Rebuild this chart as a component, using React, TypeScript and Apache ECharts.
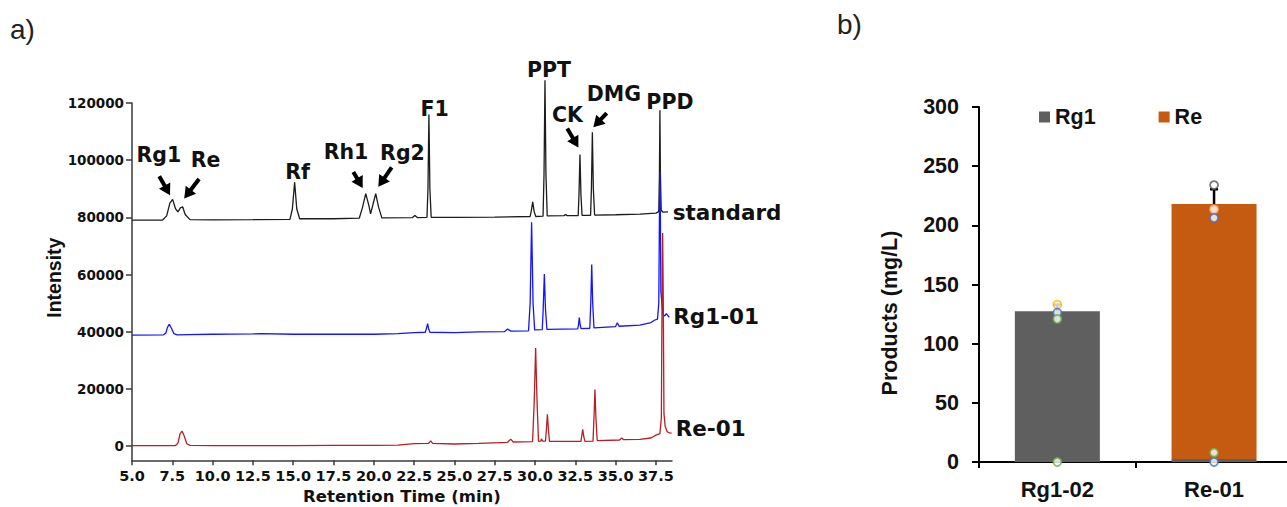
import React, { useEffect, useRef } from "react";
import * as echarts from "echarts";

// ---------- panel a) chromatogram data: [retention time (min), intensity] ----------
const standardTrace: [number, number][] = [
  [5.0, 79000], [6.9, 79050], [7.15, 80500], [7.35, 85000], [7.52, 86300], [7.7, 83000],
  [7.85, 81900], [8.0, 83300], [8.14, 83700], [8.3, 81000], [8.6, 79200], [10, 79100],
  [12.5, 79200], [14.8, 79300], [14.95, 83000], [15.09, 92300], [15.22, 83000], [15.4, 79500],
  [17.5, 79500], [19.1, 79700], [19.3, 83500], [19.5, 88300], [19.7, 84000], [19.8, 81200],
  [19.95, 84500], [20.12, 88300], [20.3, 83500], [20.5, 79800], [22.4, 79900], [22.55, 80600],
  [22.7, 79900], [23.3, 80000], [23.36, 90000], [23.42, 116000], [23.48, 90000], [23.56, 80000],
  [25, 80000], [27.5, 80100], [29.7, 80300], [29.78, 82500], [29.86, 85400], [29.95, 82000],
  [30.05, 80300], [30.5, 80400], [30.56, 95000], [30.62, 128000], [30.68, 95000], [30.76, 80500],
  [31.8, 80600], [31.9, 81000], [32.0, 80600], [32.68, 80600], [32.73, 88000], [32.79, 102000],
  [32.85, 88000], [32.92, 80700], [33.45, 80700], [33.5, 90000], [33.56, 109800], [33.62, 90000],
  [33.7, 80800], [35, 80900], [36.5, 81100], [37.5, 81500], [37.68, 82000], [37.72, 95000],
  [37.75, 117500], [37.78, 95000], [37.83, 82500], [37.95, 81800], [38.25, 81900],
];

const rg101Trace: [number, number][] = [
  [5.0, 38800], [6.95, 38900], [7.1, 39500], [7.2, 41500], [7.31, 42550], [7.45, 41200],
  [7.6, 39300], [7.8, 38900], [8.5, 39000], [10, 39100], [12.5, 39200], [13, 39300],
  [15, 39100], [17.5, 39100], [20, 39100], [21.5, 39300], [22.5, 39700], [23.2, 39800],
  [23.28, 41500], [23.34, 42800], [23.4, 41000], [23.48, 39800], [25, 39700], [26.5, 39900],
  [28.1, 40000], [28.3, 40900], [28.5, 40200], [29.6, 40300], [29.7, 50000], [29.79, 78300],
  [29.88, 50000], [29.98, 40600], [30.45, 40700], [30.51, 48000], [30.58, 60200], [30.65, 48000],
  [30.74, 40800], [32.65, 41000], [32.7, 42500], [32.75, 44900], [32.8, 42500], [32.86, 41100],
  [33.4, 41200], [33.46, 50000], [33.52, 63500], [33.58, 50000], [33.66, 41300], [35.0, 41800],
  [35.11, 43100], [35.22, 41900], [36.5, 42300], [37.2, 43200], [37.4, 44000], [37.6, 44400],
  [37.68, 50000], [37.72, 80000], [37.75, 95900], [37.78, 80000], [37.81, 54000], [37.9, 48500],
  [37.95, 46000], [38.05, 45500], [38.15, 46300], [38.33, 45000],
];

const re01Trace: [number, number][] = [
  [5.0, 100], [7.7, 150], [7.85, 1000], [7.98, 4200], [8.1, 5250], [8.22, 3800], [8.4, 800],
  [8.6, 200], [10, 150], [12.5, 150], [15, 150], [17.5, 200], [20, 200], [21.5, 300],
  [22.5, 800], [23.4, 900], [23.53, 1800], [23.65, 900], [25, 700], [26.5, 900], [28.3, 1300],
  [28.49, 2400], [28.65, 1400], [29.85, 1500], [29.95, 15000], [30.04, 34300], [30.13, 15000],
  [30.22, 1600], [30.35, 1700], [30.4, 2500], [30.47, 1700], [30.65, 1700], [30.71, 6000],
  [30.77, 11100], [30.83, 6000], [30.9, 1600], [32.85, 1600], [32.9, 3500], [32.96, 5800],
  [33.02, 3500], [33.1, 1600], [33.6, 1700], [33.66, 10000], [33.72, 19800], [33.78, 10000],
  [33.86, 1900], [35.25, 2100], [35.38, 2800], [35.5, 2200], [36.5, 2300], [37.2, 2800],
  [37.5, 3800], [37.75, 4300], [37.84, 10000], [37.88, 50000], [37.92, 74500], [37.96, 50000],
  [38.0, 11400], [38.08, 6800], [38.2, 5000], [38.35, 4600], [38.48, 4500],
];

const xTicks = [5, 7.5, 10, 12.5, 15, 17.5, 20, 22.5, 25, 27.5, 30, 32.5, 35, 37.5];
const yTicks = [0, 20000, 40000, 60000, 80000, 100000, 120000];

// peak annotations (data coordinates)
const peakLabels: { text: string; t: number; v: number }[] = [
  { text: "Rg1", t: 6.67, v: 101750 },
  { text: "Re", t: 9.56, v: 100000 },
  { text: "Rf", t: 15.27, v: 95900 },
  { text: "Rh1", t: 18.28, v: 102800 },
  { text: "Rg2", t: 21.78, v: 102600 },
  { text: "F1", t: 23.78, v: 117800 },
  { text: "PPT", t: 30.87, v: 131500 },
  { text: "CK", t: 32.02, v: 115840 },
  { text: "DMG", t: 34.9, v: 123100 },
  { text: "PPD", t: 38.37, v: 120300 },
];
const peakArrows: { from: [number, number]; to: [number, number] }[] = [
  { from: [6.69, 94400], to: [7.36, 87760] },
  { from: [9.16, 93400], to: [8.24, 86600] },
  { from: [18.73, 95900], to: [19.31, 90300] },
  { from: [21.11, 97450], to: [20.28, 90660] },
  { from: [32.0, 111100], to: [32.69, 104440] },
  { from: [34.45, 116430], to: [33.62, 111540] },
];
const traceLabels: { text: string; t: number; v: number }[] = [
  { text: "standard", t: 38.54, v: 81570 },
  { text: "Rg1-01", t: 38.58, v: 45170 },
  { text: "Re-01", t: 38.73, v: 6190 },
];

// ---------- panel b) bar data ----------
const barCategories = ["Rg1-02", "Re-01"];
const rg1Values = [127.3, 2.5];
const reValues = [0, 215.5];
const errorTop = [133.0, 230.5];
const dotsYellow: [number, number][] = [[0, 133.0]];
const dotsOrange: [number, number][] = [[1, 213.5]];
const dotsBlue: [number, number][] = [[0, 126.2], [1, 206.2], [1, 0]];
const dotsGreen: [number, number][] = [[0, 120.8], [0, 0], [1, 7.9]];
const dotsGray: [number, number][] = [[1, 234.0]];

const WIDE = '"DejaVu Sans", sans-serif';
const ARIAL = '"Liberation Sans", Arial, sans-serif';
const INK = "#111";

export default function App() {
  const ref = useRef<HTMLDivElement>(null);

  useEffect(() => {
    if (!ref.current) return;
    const chart = echarts.init(ref.current, undefined, { renderer: "svg" });

    const totals = rg1Values.map((v, i) => v + reValues[i]);
    const leftAxisLine = { color: "#3a3a3a", width: 1.5 };
    const rightAxisLine = { color: "#000", width: 2 };

    const dotSeries = (data: [number, number][], color: string) => ({
      type: "scatter",
      xAxisIndex: 1,
      yAxisIndex: 1,
      data,
      symbol: "circle",
      symbolSize: 8,
      z: 6,
      silent: true,
      itemStyle: { color: "#fff", borderColor: color, borderWidth: 1.8 },
    });

    const lineSeries = (name: string, data: [number, number][], color: string) => ({
      type: "line",
      name,
      xAxisIndex: 0,
      yAxisIndex: 0,
      data,
      symbol: "none",
      showSymbol: false,
      clip: false,
      silent: true,
      lineStyle: { color, width: 1.3 },
    });

    const option: any = {
      animation: false,
      backgroundColor: "#fff",
      title: [
        { text: "a)", left: 10, top: 15, padding: 0, textStyle: { fontFamily: ARIAL, fontWeight: "normal", fontSize: 28, color: "#222" } },
        { text: "b)", left: 837, top: 10, padding: 0, textStyle: { fontFamily: ARIAL, fontWeight: "normal", fontSize: 28, color: "#222" } },
      ],
      legend: {
        data: ["Rg1", "Re"],
        left: 1039,
        top: 106,
        padding: 0,
        icon: "rect",
        itemWidth: 11,
        itemHeight: 11,
        itemGap: 63,
        textStyle: { fontFamily: ARIAL, fontWeight: "bold", fontSize: 21.5, color: INK },
      },
      grid: [
        { left: 132, top: 103, width: 540, height: 357.3, outerBoundsMode: "none" },
        { left: 979, top: 107, width: 313.4, height: 355, outerBoundsMode: "none" },
      ],
      xAxis: [
        {
          gridIndex: 0,
          type: "value",
          min: 5,
          max: 38.5,
          axisLine: { show: true, onZero: false, lineStyle: leftAxisLine },
          axisTick: { show: true, customValues: xTicks, length: 5, lineStyle: leftAxisLine },
          axisLabel: {
            customValues: xTicks,
            formatter: (v: number) => v.toFixed(1),
            fontFamily: WIDE,
            fontWeight: "bold",
            fontSize: 14.5,
            color: INK,
            margin: 8,
          },
          splitLine: { show: false },
          name: "Retention Time (min)",
          nameLocation: "middle",
          nameGap: 27,
          nameTextStyle: { fontFamily: WIDE, fontWeight: "bold", fontSize: 16.5, color: INK },
        },
        {
          gridIndex: 1,
          type: "category",
          data: barCategories,
          axisLine: { show: true, lineStyle: rightAxisLine },
          axisTick: { show: true, alignWithLabel: false, length: 6, lineStyle: rightAxisLine },
          axisLabel: { fontFamily: ARIAL, fontWeight: "bold", fontSize: 22, color: INK, margin: 16 },
          splitLine: { show: false },
        },
      ],
      yAxis: [
        {
          gridIndex: 0,
          type: "value",
          min: -5000,
          max: 120000,
          axisLine: { show: true, onZero: false, lineStyle: leftAxisLine },
          axisTick: { show: true, customValues: yTicks, length: 6, lineStyle: leftAxisLine },
          axisLabel: {
            customValues: yTicks,
            formatter: (v: number) => String(v),
            fontFamily: WIDE,
            fontWeight: "bold",
            fontSize: 13.5,
            color: INK,
            margin: 8,
          },
          splitLine: { show: false },
          name: "Intensity",
          nameLocation: "middle",
          nameGap: 63,
          nameTextStyle: {
            fontFamily: ARIAL,
            fontWeight: "bold",
            fontSize: 19.5,
            color: INK,
            padding: [0, 0, 0, 8],
          },
        },
        {
          gridIndex: 1,
          type: "value",
          min: 0,
          max: 300,
          interval: 50,
          axisLine: { show: true, lineStyle: rightAxisLine },
          axisTick: { show: true, length: 7, lineStyle: rightAxisLine },
          axisLabel: { fontFamily: ARIAL, fontWeight: "bold", fontSize: 21.5, color: INK, margin: 20 },
          splitLine: { show: false },
          name: "Products (mg/L)",
          nameLocation: "middle",
          nameGap: 78,
          nameTextStyle: {
            fontFamily: ARIAL,
            fontWeight: "bold",
            fontSize: 21.5,
            color: INK,
            padding: [0, 57, 0, 0],
          },
        },
      ],
      series: [
        lineSeries("standard", standardTrace, "#1c1c1c"),
        lineSeries("Rg1-01", rg101Trace, "#1414ff"),
        lineSeries("Re-01", re01Trace, "#b52025"),
        {
          type: "bar",
          name: "Rg1",
          stack: "products",
          xAxisIndex: 1,
          yAxisIndex: 1,
          data: rg1Values,
          barWidth: 85,
          itemStyle: { color: "#5f5f5f" },
        },
        {
          type: "bar",
          name: "Re",
          stack: "products",
          xAxisIndex: 1,
          yAxisIndex: 1,
          data: reValues,
          barWidth: 85,
          itemStyle: { color: "#c55a11" },
        },
        {
          type: "custom",
          name: "error",
          xAxisIndex: 1,
          yAxisIndex: 1,
          z: 5,
          silent: true,
          encode: { x: 0, y: [1, 2] },
          data: barCategories.map((_, i) => [i, totals[i], errorTop[i]]),
          renderItem: (_p: any, api: any) => {
            const lo = api.coord([api.value(0), api.value(1)]);
            const hi = api.coord([api.value(0), api.value(2)]);
            const st = { stroke: "#000", lineWidth: 2.5 };
            return {
              type: "group",
              children: [
                { type: "line", shape: { x1: lo[0], y1: lo[1], x2: hi[0], y2: hi[1] }, style: st },
                { type: "line", shape: { x1: hi[0] - 4, y1: hi[1], x2: hi[0] + 4, y2: hi[1] }, style: st },
              ],
            };
          },
        },
        dotSeries(dotsYellow, "#ffc000"),
        dotSeries(dotsOrange, "#f4b183"),
        dotSeries(dotsBlue, "#4472c4"),
        dotSeries(dotsGreen, "#70ad47"),
        dotSeries(dotsGray, "#595959"),
      ],
    };

    chart.setOption(option);

    // annotations anchored to data coordinates
    const px = (t: number, v: number) => chart.convertToPixel({ gridIndex: 0 } as any, [t, v]) as number[];
    const graphics: any[] = [];
    peakLabels.forEach((p) => {
      const [x, y] = px(p.t, p.v);
      graphics.push({
        type: "text",
        x,
        y,
        silent: true,
        style: {
          text: p.text,
          fontFamily: WIDE,
          fontWeight: "bold",
          fontSize: 20.5,
          fill: INK,
          align: "center",
          verticalAlign: "middle",
        },
      });
    });
    traceLabels.forEach((p) => {
      const [x, y] = px(p.t, p.v);
      graphics.push({
        type: "text",
        x,
        y,
        silent: true,
        style: {
          text: p.text,
          fontFamily: WIDE,
          fontWeight: "bold",
          fontSize: 21.5,
          fill: INK,
          align: "left",
          verticalAlign: "middle",
        },
      });
    });
    peakArrows.forEach((a) => {
      const [x1, y1] = px(a.from[0], a.from[1]);
      const [x2, y2] = px(a.to[0], a.to[1]);
      const dx = x2 - x1;
      const dy = y2 - y1;
      const len = Math.sqrt(dx * dx + dy * dy) || 1;
      const ux = dx / len;
      const uy = dy / len;
      const head = 11;
      const half = 6.5;
      const bx = x2 - ux * head;
      const by = y2 - uy * head;
      graphics.push({
        type: "line",
        silent: true,
        shape: { x1, y1, x2: bx + ux, y2: by + uy },
        style: { stroke: "#000", lineWidth: 4 },
      });
      graphics.push({
        type: "polygon",
        silent: true,
        shape: {
          points: [
            [x2, y2],
            [bx - uy * half, by + ux * half],
            [bx + uy * half, by - ux * half],
          ],
        },
        style: { fill: "#000" },
      });
    });
    chart.setOption({ graphic: graphics });

    return () => chart.dispose();
  }, []);

  return (
    <div
      ref={ref}
      style={{ position: "absolute", left: 0, top: 0, width: 1287, height: 507, background: "#fff" }}
    />
  );
}
